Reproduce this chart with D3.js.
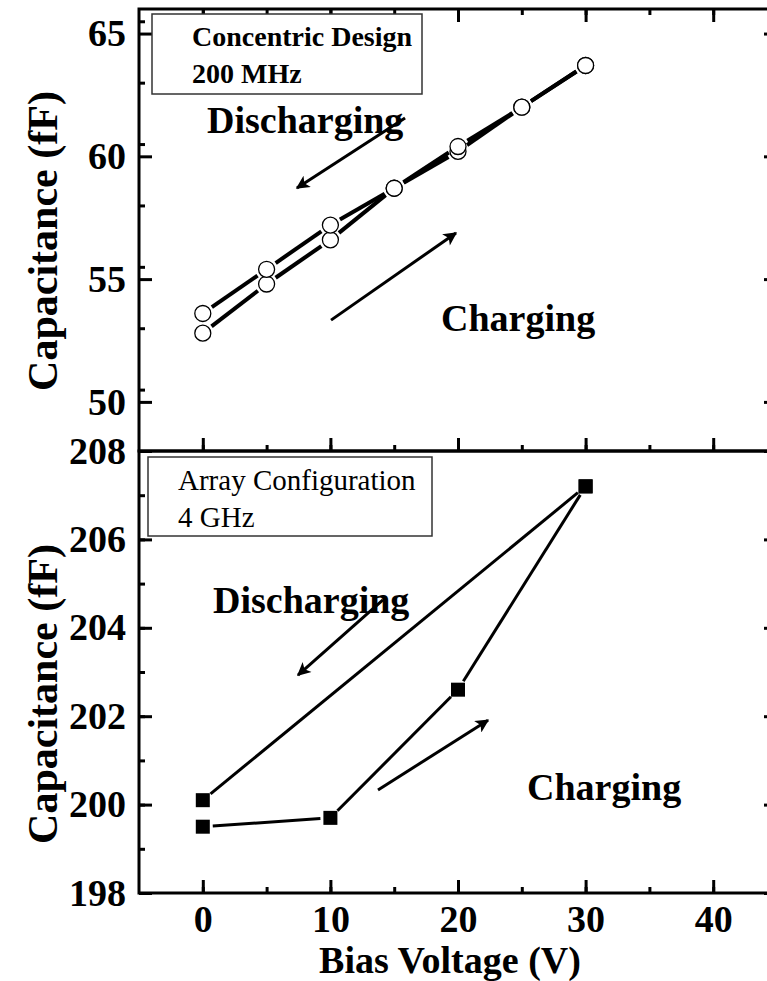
<!DOCTYPE html>
<html>
<head>
<meta charset="utf-8">
<script src="https://cdn.jsdelivr.net/npm/d3@7"></script>
<style>
  body { margin: 0; background: #fff; }
  svg text { font-family: "Liberation Serif", "Times New Roman", serif; }
</style>
</head>
<body>
<svg id="chart" width="767" height="981"></svg>
<script>
// top panel: concentric design, 200 MHz
var voltsTop = [0, 5, 10, 15, 20, 25, 30];
var chargeTop = [52.8, 54.8, 56.6, 58.7, 60.2, 62.0, 63.7];
var dischargeTop = [53.6, 55.4, 57.2, 58.7, 60.4, 62.0, 63.7];

// bottom panel: array configuration, 4 GHz
var voltsBotCharge = [0, 10, 20, 30];
var chargeBot = [199.5, 199.7, 202.6, 207.2];
var voltsBotDischarge = [30, 0];
var dischargeBot = [207.2, 200.1];

var xTicks = [0, 10, 20, 30, 40];
var yTicksTop = [50, 55, 60, 65];
var yTicksBot = [198, 200, 202, 204, 206, 208];

// arrows [x0, y0, x1, y1] in data units
var arrowsTop = [[15.85, 61.56, 7.38, 58.71], [10.05, 53.33, 19.84, 56.88]];
var arrowsBot = [[14.12, 204.63, 7.46, 202.93], [13.73, 200.33, 22.35, 201.91]];

var svg = d3.select('#chart');

var x = d3.scaleLinear().domain([-5, 45]).range([139, 777]);
var yTop = d3.scaleLinear().domain([48, 66]).range([451, 9]);
var yBot = d3.scaleLinear().domain([198, 208]).range([893, 451]);

svg.append('defs').append('marker')
  .attr('id', 'head')
  .attr('viewBox', '0 0 10 10')
  .attr('refX', 9).attr('refY', 5)
  .attr('markerWidth', 7).attr('markerHeight', 4.5)
  .attr('markerUnits', 'strokeWidth')
  .attr('orient', 'auto')
  .append('path').attr('d', 'M0,0 L10,5 L0,10 L2.5,5 Z').attr('fill', '#000');

function minors(lo, hi, step) {
  var out = [];
  for (var v = lo; v <= hi + 1e-9; v += step) out.push(+v.toFixed(3));
  return out;
}

function styleAxis(g) {
  g.select('.domain').remove();
  g.selectAll('line').attr('stroke', '#000').attr('stroke-width', 3);
  g.selectAll('text').attr('font-weight', 'bold').attr('font-size', 38).attr('fill', '#000');
}

// segments shortened so they stop short of the markers
function drawSeries(g, xs, ys, y, gap, width) {
  var pts = xs.map(function(v, i) { return [x(v), y(ys[i])]; });
  var segs = d3.pairs(pts);
  g.selectAll(null).data(segs).enter().append('line')
    .each(function(s) {
      var dx = s[1][0] - s[0][0], dy = s[1][1] - s[0][1];
      var len = Math.sqrt(dx * dx + dy * dy);
      var ux = dx / len, uy = dy / len;
      d3.select(this)
        .attr('x1', s[0][0] + ux * gap).attr('y1', s[0][1] + uy * gap)
        .attr('x2', s[1][0] - ux * gap).attr('y2', s[1][1] - uy * gap);
    })
    .attr('stroke', '#000').attr('stroke-width', width);
}

function drawArrows(g, arr, y) {
  g.selectAll(null).data(arr).enter().append('line')
    .attr('x1', function(d) { return x(d[0]); })
    .attr('y1', function(d) { return y(d[1]); })
    .attr('x2', function(d) { return x(d[2]); })
    .attr('y2', function(d) { return y(d[3]); })
    .attr('stroke', '#000').attr('stroke-width', 3)
    .attr('marker-end', 'url(#head)');
}

function panel(y, yMajor, yMinorStep, top, bottom, topTicks) {
  var g = svg.append('g');
  var dom = y.domain();
  // left
  g.append('g').attr('transform', 'translate(' + x.range()[0] + ',0)')
    .call(d3.axisLeft(y).tickValues(minors(dom[0], dom[1], yMinorStep)).tickSize(-6).tickFormat(''))
    .call(styleAxis);
  g.append('g').attr('transform', 'translate(' + x.range()[0] + ',0)')
    .call(d3.axisLeft(y).tickValues(yMajor).tickSize(-13).tickPadding(13).tickFormat(d3.format('d')))
    .call(styleAxis);
  // right
  g.append('g').attr('transform', 'translate(' + x.range()[1] + ',0)')
    .call(d3.axisRight(y).tickValues(yMajor).tickSize(-13).tickFormat(''))
    .call(styleAxis);
  // bottom
  g.append('g').attr('transform', 'translate(0,' + bottom + ')')
    .call(d3.axisBottom(x).tickValues(minors(0, 40, 5)).tickSize(-6).tickFormat(''))
    .call(styleAxis);
  g.append('g').attr('transform', 'translate(0,' + bottom + ')')
    .call(d3.axisBottom(x).tickValues(xTicks).tickSize(-13).tickFormat(''))
    .call(styleAxis);
  if (topTicks) {
    g.append('g').attr('transform', 'translate(0,' + top + ')')
      .call(d3.axisTop(x).tickValues(minors(0, 40, 5)).tickSize(-6).tickFormat(''))
      .call(styleAxis);
    g.append('g').attr('transform', 'translate(0,' + top + ')')
      .call(d3.axisTop(x).tickValues(xTicks).tickSize(-13).tickFormat(''))
      .call(styleAxis);
  }
  g.append('rect')
    .attr('x', x.range()[0]).attr('y', top)
    .attr('width', x.range()[1] - x.range()[0]).attr('height', bottom - top)
    .attr('fill', 'none').attr('stroke', '#000').attr('stroke-width', 3);
  return g;
}

// ---- top panel
var gt = panel(yTop, yTicksTop, 2.5, 9, 451, true);

gt.append('rect').attr('x', 152).attr('y', 14).attr('width', 270).attr('height', 80)
  .attr('fill', '#fff').attr('stroke', '#333').attr('stroke-width', 1.5);
gt.append('text').attr('x', 192).attr('y', 46).attr('font-size', 28).attr('font-weight', 'bold')
  .text('Concentric Design');
gt.append('text').attr('x', 192).attr('y', 83).attr('font-size', 28).attr('font-weight', 'bold')
  .text('200 MHz');

gt.append('text').attr('x', 207).attr('y', 133).attr('font-size', 38).attr('font-weight', 'bold')
  .text('Discharging');
gt.append('text').attr('x', 441).attr('y', 331).attr('font-size', 38).attr('font-weight', 'bold')
  .text('Charging');

drawArrows(gt, arrowsTop, yTop);
drawSeries(gt, voltsTop, chargeTop, yTop, 11, 4);
drawSeries(gt, voltsTop, dischargeTop, yTop, 11, 4);

gt.selectAll(null).data(voltsTop.map(function(v, i) { return [v, chargeTop[i]]; })
    .concat(voltsTop.map(function(v, i) { return [v, dischargeTop[i]]; })))
  .enter().append('circle')
  .attr('cx', function(d) { return x(d[0]); })
  .attr('cy', function(d) { return yTop(d[1]); })
  .attr('r', 8)
  .attr('fill', '#fff').attr('stroke', '#000').attr('stroke-width', 1.3);

// ---- bottom panel
var gb = panel(yBot, yTicksBot, 1, 451, 893, false);

gb.append('rect').attr('x', 148).attr('y', 457).attr('width', 284).attr('height', 79)
  .attr('fill', '#fff').attr('stroke', '#333').attr('stroke-width', 1.5);
gb.append('text').attr('x', 178).attr('y', 490).attr('font-size', 29)
  .text('Array Configuration');
gb.append('text').attr('x', 178).attr('y', 527).attr('font-size', 29)
  .text('4 GHz');

gb.append('text').attr('x', 213).attr('y', 613).attr('font-size', 38).attr('font-weight', 'bold')
  .text('Discharging');
gb.append('text').attr('x', 527).attr('y', 800).attr('font-size', 38).attr('font-weight', 'bold')
  .text('Charging');

drawArrows(gb, arrowsBot, yBot);
drawSeries(gb, voltsBotCharge, chargeBot, yBot, 10, 3);
drawSeries(gb, voltsBotDischarge, dischargeBot, yBot, 10, 3);

var sq = 14;
gb.selectAll(null).data(voltsBotCharge.map(function(v, i) { return [v, chargeBot[i]]; })
    .concat(voltsBotDischarge.map(function(v, i) { return [v, dischargeBot[i]]; })))
  .enter().append('rect')
  .attr('x', function(d) { return x(d[0]) - sq / 2; })
  .attr('y', function(d) { return yBot(d[1]) - sq / 2; })
  .attr('width', sq).attr('height', sq)
  .attr('fill', '#000');

// x tick labels under the bottom panel
svg.append('g').attr('transform', 'translate(0,893)')
  .call(d3.axisBottom(x).tickValues(xTicks).tickSize(0).tickPadding(12).tickFormat(d3.format('d')))
  .call(styleAxis);

// axis titles
svg.append('text').attr('x', 450).attr('y', 973).attr('text-anchor', 'middle')
  .attr('font-size', 38).attr('font-weight', 'bold').text('Bias Voltage (V)');

[241, 694].forEach(function(cy) {
  svg.append('text')
    .attr('transform', 'translate(57,' + cy + ') rotate(-90)')
    .attr('text-anchor', 'middle')
    .attr('font-size', 42).attr('font-weight', 'bold')
    .text('Capacitance (fF)');
});
</script>
</body>
</html>
